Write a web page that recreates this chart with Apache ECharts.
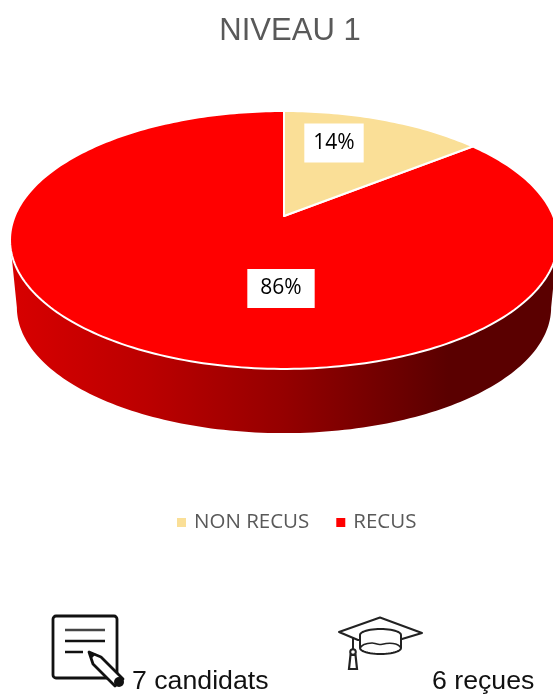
<!DOCTYPE html>
<html><head><meta charset="utf-8">
<style>html,body{margin:0;padding:0;background:#fff}#c{width:553px;height:695px}</style>
<script src="https://cdn.jsdelivr.net/npm/echarts@6/dist/echarts.min.js"></script>
</head><body><div id="c"></div>
<script>
const categories = ['NON RECUS', 'RECUS'];
const counts = [1, 6];
const colors = ['#FADF97', '#FF0000'];
const captions = ['7 candidats', '6 reçues'];
const titleText = 'NIVEAU 1';

const total = counts.reduce((a, b) => a + b, 0);
// tilted-disc projection
const K = -0.186, A = 269.2, B = 124.5;
function proj(theta, cx, cy, s) {
  const x = Math.sin(theta), y = -Math.cos(theta), d = 1 + K * y;
  return [cx + s * A * x / d, cy + s * B * y / d];
}
function arc(a0, a1, cx, cy, s) {
  const n = Math.max(2, Math.ceil(Math.abs(a1 - a0) / 0.02)), p = [];
  for (let i = 0; i <= n; i++) p.push(proj(a0 + (a1 - a0) * i / n, cx, cy, s));
  return p;
}
const CX = 284, CY = 216;
const labelPos = [[334, 143], [281, 288.5]];
const labelPad = [[11, 9, 7, 9], [11, 13, 7, 13]];
const wallGrad = {type:'linear', x:0, y:0, x2:1, y2:0, colorStops:[
  {offset:0, color:'#d80000'},{offset:0.25, color:'#bb0000'},{offset:0.5, color:'#950000'},
  {offset:0.8, color:'#5a0000'},{offset:1, color:'#5a0000'}]};

function sliceRender(idx) {
  return function (params, api) {
    const v = api.value(0);
    let before = 0;
    for (let i = 0; i < idx; i++) before += counts[i];
    const a0 = before / total * 2 * Math.PI, a1 = (before + v) / total * 2 * Math.PI;
    const children = [];
    if (idx === 1) {
      const pts = [proj(4.525, CX, CY, 1)].concat(arc(4.525, 1.758, CX, 284, 0.975)).concat([proj(1.758, CX, CY, 1)]);
      children.push({type:'polygon', shape:{points:pts}, style:{fill:wallGrad, stroke:null}});
    }
    const top = [[CX, CY]].concat(arc(a0, a1, CX, CY, 1));
    children.push({type:'polygon', shape:{points:top}, style:{fill:colors[idx], stroke:'#fff', lineWidth:2, lineJoin:'round'}});
    children.push({type:'text', style:{
      text: Math.round(v / total * 100) + '%',
      x: labelPos[idx][0], y: labelPos[idx][1], align:'center', verticalAlign:'middle',
      fontFamily:'Open Sans', fontSize:21, fill:'#000',
      backgroundColor:'#fff', padding:labelPad[idx]}});
    return {type:'group', children};
  };
}
function halfEllipse(cx, cy, rx, ry, from, to) {
  const p = [];
  for (let i = 0; i <= 24; i++) { const t = from + (to - from) * i / 24; p.push([cx + rx * Math.cos(t), cy + ry * Math.sin(t)]); }
  return p;
}
const capBody = halfEllipse(380.5, 635, 20.5, 6, Math.PI, 2 * Math.PI).concat(halfEllipse(380.5, 648, 20.5, 6, 0, Math.PI));

const chart = echarts.init(document.getElementById('c'), null, {renderer:'canvas'});
chart.setOption({
  animation:false,
  backgroundColor:'#fff',
  title:{text:titleText, left:285, top:11, textAlign:'center',
    textStyle:{fontFamily:'Liberation Sans', fontSize:31, fontWeight:'normal', color:'#595959'}},
  legend:{data:categories, left:172, top:507, icon:'rect', itemWidth:9, itemHeight:9, itemGap:27,
    textStyle:{fontFamily:'Open Sans', fontSize:20.5, color:'#595959', padding:[0,0,0,3]}},
  series:[
    {type:'custom', name:categories[1], coordinateSystem:'none', z:2, itemStyle:{color:colors[1]},
      data:[[counts[1]]], renderItem:sliceRender(1)},
    {type:'custom', name:categories[0], coordinateSystem:'none', z:3, itemStyle:{color:colors[0]},
      data:[[counts[0]]], renderItem:sliceRender(0)}
  ],
  graphic:[
    {type:'rect', shape:{x:53, y:616, width:64, height:62, r:3}, style:{fill:'#fff', stroke:'#111', lineWidth:2.8}},
    {type:'line', shape:{x1:65, y1:630, x2:105, y2:630}, style:{stroke:'#444', lineWidth:2.5}},
    {type:'line', shape:{x1:65, y1:641, x2:105, y2:641}, style:{stroke:'#111', lineWidth:2.5}},
    {type:'line', shape:{x1:65, y1:652, x2:83, y2:652}, style:{stroke:'#111', lineWidth:2.5}},
    {type:'polygon', shape:{points:[[89,652],[101,657],[123,679],[115,686],[93,664]]}, style:{fill:'#fff', stroke:'#111', lineWidth:2.8, lineJoin:'round'}},
    {type:'polygon', shape:{points:[[89,652],[96,654],[91,659]]}, style:{fill:'#111'}},
    {type:'circle', shape:{cx:119, cy:682, r:5}, style:{fill:'#111'}},
    {type:'text', style:{text:captions[0], x:132, y:682, verticalAlign:'middle', fontFamily:'Liberation Sans', fontSize:26.7, fill:'#111'}},
    {type:'polygon', shape:{points:[[380,617.5],[422,633],[402,639],[380,640],[358,640],[339,632]]}, style:{fill:'#fff', stroke:'#222', lineWidth:2, lineJoin:'round'}},
    {type:'polygon', shape:{points:capBody}, style:{fill:'#fff', stroke:'#222', lineWidth:2}},
    {type:'polyline', shape:{points:[[360,648],[364,644.5],[372,643],[377,644],[381,644.5],[386,643.5],[393,643.5],[398,645],[401,648]], smooth:0.4}, style:{fill:'none', stroke:'#222', lineWidth:1.5}},
    {type:'line', shape:{x1:353, y1:637, x2:353, y2:650}, style:{stroke:'#222', lineWidth:2}},
    {type:'circle', shape:{cx:353, cy:652, r:2.8}, style:{fill:'#fff', stroke:'#222', lineWidth:2}},
    {type:'polygon', shape:{points:[[350.5,655],[355.5,655],[357,669],[349,669]]}, style:{fill:'#fff', stroke:'#222', lineWidth:2.2}},
    {type:'text', style:{text:captions[1], x:432, y:682, verticalAlign:'middle', fontFamily:'Liberation Sans', fontSize:26.7, fill:'#111'}}
  ]
});
</script></body></html>
